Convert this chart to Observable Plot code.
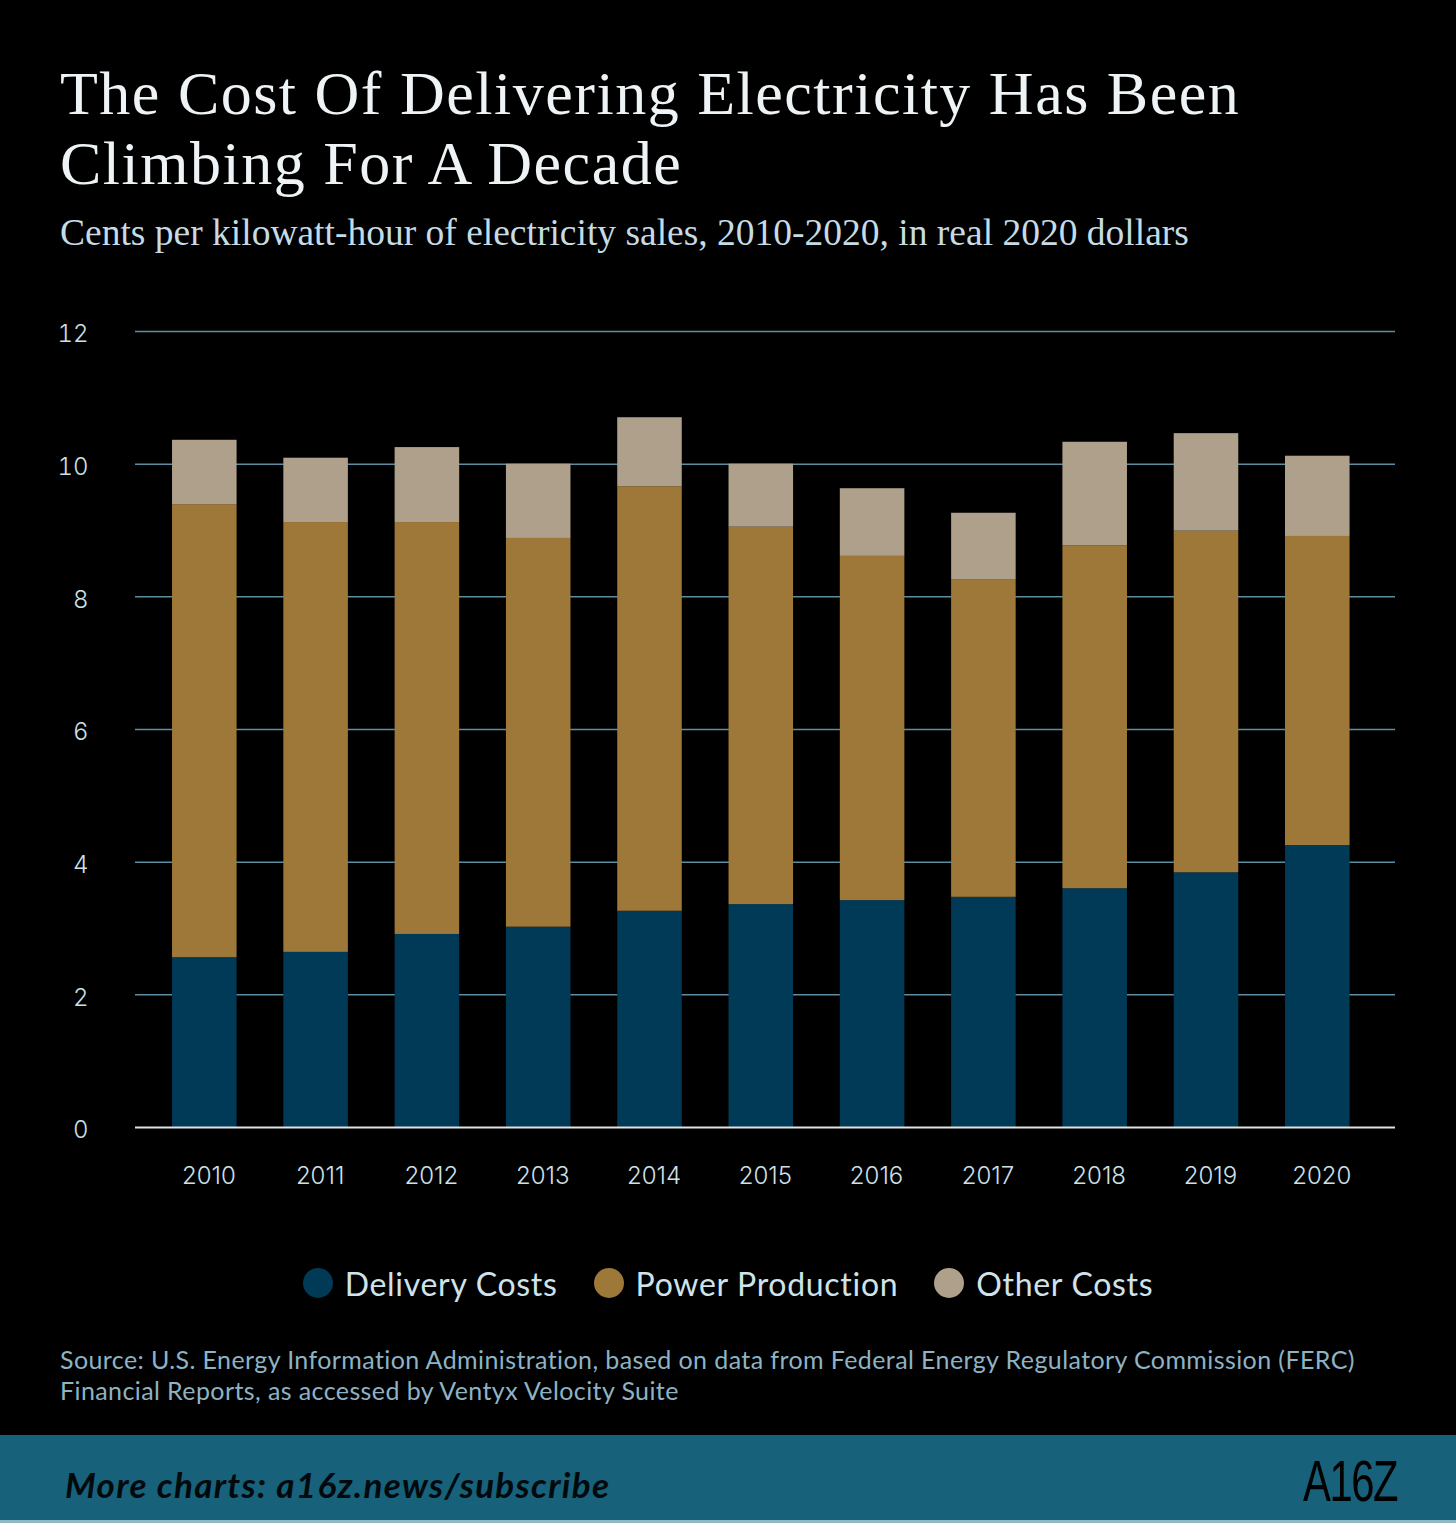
<!DOCTYPE html>
<html>
<head>
<meta charset="utf-8">
<script src="https://cdn.jsdelivr.net/npm/d3@7"></script>
<script src="https://cdn.jsdelivr.net/npm/@observablehq/plot@0.6"></script>
<style>
  html, body { margin: 0; padding: 0; background: #000; }
  #page { position: relative; width: 1456px; height: 1523px; background: #000; overflow: hidden; }
  .abs { position: absolute; }
  .title { left: 60px; font-family: "Liberation Serif", serif; font-size: 62px; line-height: 62px; letter-spacing: 1.5px; color: #eef3f6; white-space: nowrap; }
  #title1 { top: 62px; }
  #title2 { top: 131.5px; }
  #subtitle { left: 60px; top: 214px; font-family: "Liberation Serif", serif; font-size: 37.5px; line-height: 38px; color: #c5dbe5; white-space: nowrap; }
  #chart { left: 0; top: 300px; }
  #legend { left: 0; width: 1456px; top: 1263px; height: 40px; display: flex; justify-content: center; align-items: center; font-family: Lato, sans-serif; font-size: 32px; letter-spacing: 0.7px; color: #d0e3ea; }
  .item { display: flex; align-items: center; margin: 0 18px; }
  .sw { width: 30px; height: 30px; border-radius: 50%; margin-right: 12px; }
  #source { left: 60px; top: 1344px; font-family: Lato, sans-serif; font-size: 25px; letter-spacing: 0.4px; line-height: 31px; color: #8db3c4; white-space: nowrap; }
  #footer { left: 0; top: 1435px; width: 1456px; height: 85px; background: #17617a; border-bottom: 3px solid #8fb6c4; }
  #more { left: 65px; top: 1467px; font-family: Lato, sans-serif; font-weight: 700; font-style: italic; font-size: 35px; letter-spacing: 1.3px; line-height: 35px; color: #02090d; white-space: nowrap; }
  #logo { left: 1303px; top: 1452px; font-family: "Liberation Sans", sans-serif; font-size: 58px; line-height: 58px; color: #000; transform: scaleX(0.72); transform-origin: left top; letter-spacing: -2px; }
</style>
</head>
<body>
<div id="page">
  <div id="title1" class="abs title">The Cost Of Delivering Electricity Has Been</div>
  <div id="title2" class="abs title">Climbing For A Decade</div>
  <div id="subtitle" class="abs">Cents per kilowatt-hour of electricity sales, 2010-2020, in real 2020 dollars</div>
  <div id="chart" class="abs"></div>
  <div id="legend" class="abs"></div>
  <div id="source" class="abs">Source: U.S. Energy Information Administration, based on data from Federal Energy Regulatory Commission (FERC)<br>Financial Reports, as accessed by Ventyx Velocity Suite</div>
  <div id="footer" class="abs"></div>
  <div id="more" class="abs">More charts: a16z.news/subscribe</div>
  <div id="logo" class="abs">A16Z</div>
</div>
<script>
const years = ["2010","2011","2012","2013","2014","2015","2016","2017","2018","2019","2020"];
const seriesNames = ["Delivery Costs", "Power Production", "Other Costs"];
const seriesColors = ["#013a56", "#9e7838", "#aea08b"];
const delivery = [2.56, 2.64, 2.91, 3.02, 3.26, 3.36, 3.42, 3.47, 3.60, 3.84, 4.25];
const power    = [6.83, 6.48, 6.21, 5.86, 6.40, 5.69, 5.19, 4.79, 5.17, 5.15, 4.66];
const other    = [0.97, 0.97, 1.13, 1.12, 1.04, 0.95, 1.02, 1.00, 1.56, 1.47, 1.21];
const yTicks = [0, 2, 4, 6, 8, 10, 12];

const seriesValues = [delivery, power, other];
const data = [];
years.forEach((yr, i) => {
  seriesNames.forEach((s, j) => data.push({year: yr, series: s, value: seriesValues[j][i]}));
});

const chart = Plot.plot({
  width: 1456,
  height: 900,
  marginLeft: 135,
  marginRight: 61,
  marginTop: 31,
  marginBottom: 73,
  style: {background: "transparent", color: "#cfe0e8", fontFamily: "Inter, sans-serif", fontWeight: 300},
  x: {type: "band", domain: years, paddingInner: 0.42, paddingOuter: 0.3705, align: 0.449, round: false, label: null},
  y: {domain: [0, 12], label: null},
  color: {domain: seriesNames, range: seriesColors},
  marks: [
    Plot.ruleY(yTicks.filter(d => d > 0), {stroke: "#5b8ea3", strokeWidth: 1.5}),
    Plot.barY(data, {x: "year", y: "value", fill: "series", order: seriesNames}),
    Plot.ruleY([0], {stroke: "#e2e2e2", strokeWidth: 2}),
    Plot.axisY({ticks: yTicks, tickSize: 0, tickPadding: 47, fontSize: 24, dy: 3, tickFormat: d => d}),
    Plot.axisX({tickSize: 0, tickPadding: 39, fontSize: 24, dx: 4})
  ]
});
document.getElementById("chart").appendChild(chart);

const legend = document.getElementById("legend");
seriesNames.forEach((s, j) => {
  const it = document.createElement("div");
  it.className = "item";
  const sw = document.createElement("div");
  sw.className = "sw";
  sw.style.background = seriesColors[j];
  const lb = document.createElement("span");
  lb.textContent = s;
  it.appendChild(sw); it.appendChild(lb);
  legend.appendChild(it);
});
</script>
</body>
</html>
